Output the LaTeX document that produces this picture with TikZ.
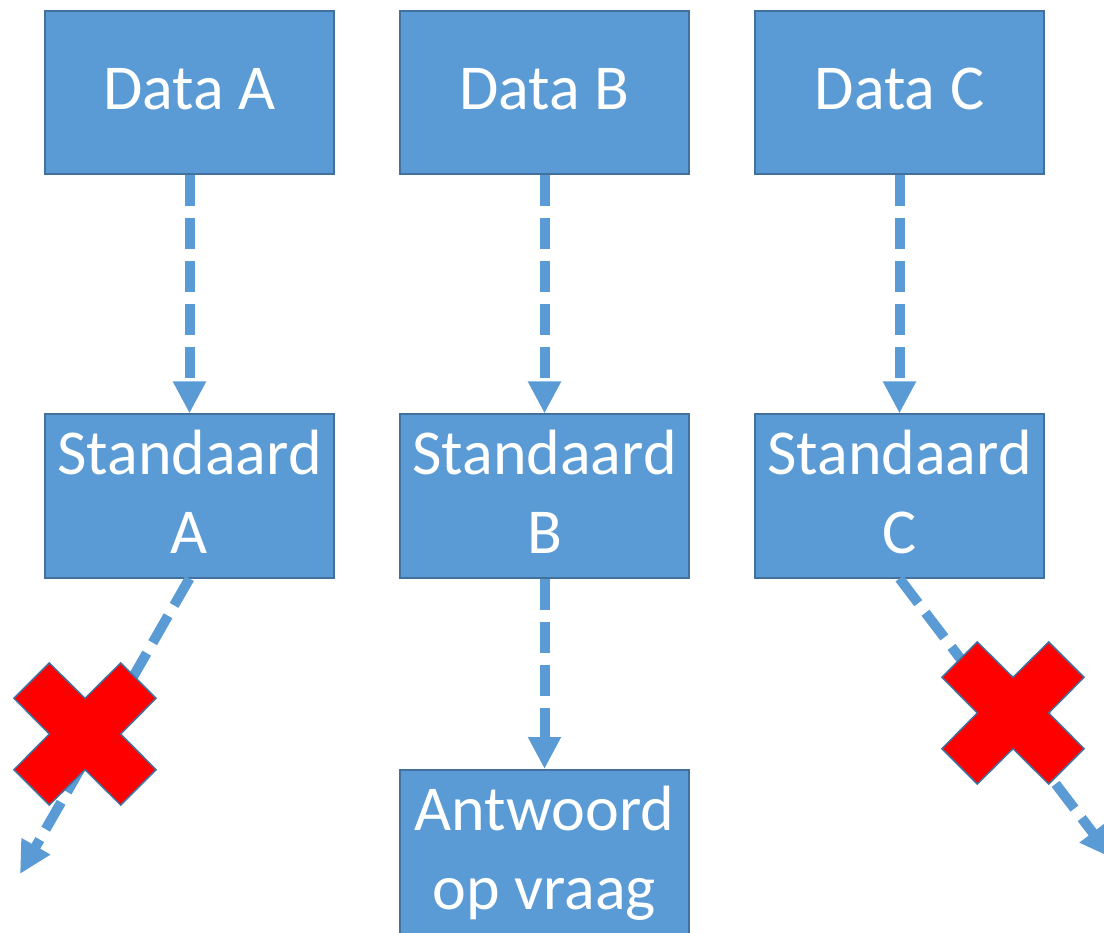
\documentclass[tikz,border=0pt]{standalone}
\usepackage{fontspec}
\setmainfont{Carlito}
\usetikzlibrary{arrows.meta}
\definecolor{boxfill}{HTML}{5B9BD5}
\definecolor{boxline}{HTML}{41719C}
\definecolor{crossred}{HTML}{FF0000}
\begin{document}
\begin{tikzpicture}[x=1pt,y=-1pt,
  box/.style={draw=boxline, line width=2pt, fill=boxfill, text=white,
    minimum width=289pt, minimum height=163pt, inner sep=0pt, align=center,
    font=\fontsize{64}{79}\selectfont},
  lifted/.style={text depth=8pt},
  flow/.style={draw=boxfill, line width=10pt, dash pattern=on 31pt off 12pt,
    -{Triangle[width=31pt,length=32pt]}},
  crossmark/.style={draw=boxline, line width=1.5pt, fill=crossred}]
\useasboundingbox (0,0) rectangle (1104,933);
\node[box, lifted] (da) at (189.5,92.5) {Data A};
\node[box, lifted] (db) at (544.5,92.5) {Data B};
\node[box, lifted] (dc) at (899.5,92.5) {Data C};
\node[box, lifted] (sa) at (189.5,496) {Standaard\\A};
\node[box, lifted] (sb) at (544.5,496) {Standaard\\B};
\node[box, lifted] (sc) at (899.5,496) {Standaard\\C};
\node[box, minimum height=166pt] (an) at (544.5,853) {Antwoord\\op vraag};
\coordinate (ea) at (20,874);
\coordinate (ec) at (1112,858);
\draw[flow] (da.south) -- (sa.north);
\draw[flow] (db.south) -- (sb.north);
\draw[flow] (dc.south) -- (sc.north);
\draw[flow] (sb.south) -- (an.north);
\draw[flow] (sa.south) -- (ea);
\draw[flow] (sc.south) -- (ec);
\foreach \cx/\cy in {85/734, 1013/713}{
  \draw[crossmark, shift={(\cx,\cy)}]
    (0,-35.7) -- (35.7,-71) -- (71,-35.7) -- (35.7,0) -- (71,35.7) -- (35.7,71)
    -- (0,35.7) -- (-35.7,71) -- (-71,35.7) -- (-35.7,0) -- (-71,-35.7)
    -- (-35.7,-71) -- cycle;
}
\end{tikzpicture}
\end{document}
